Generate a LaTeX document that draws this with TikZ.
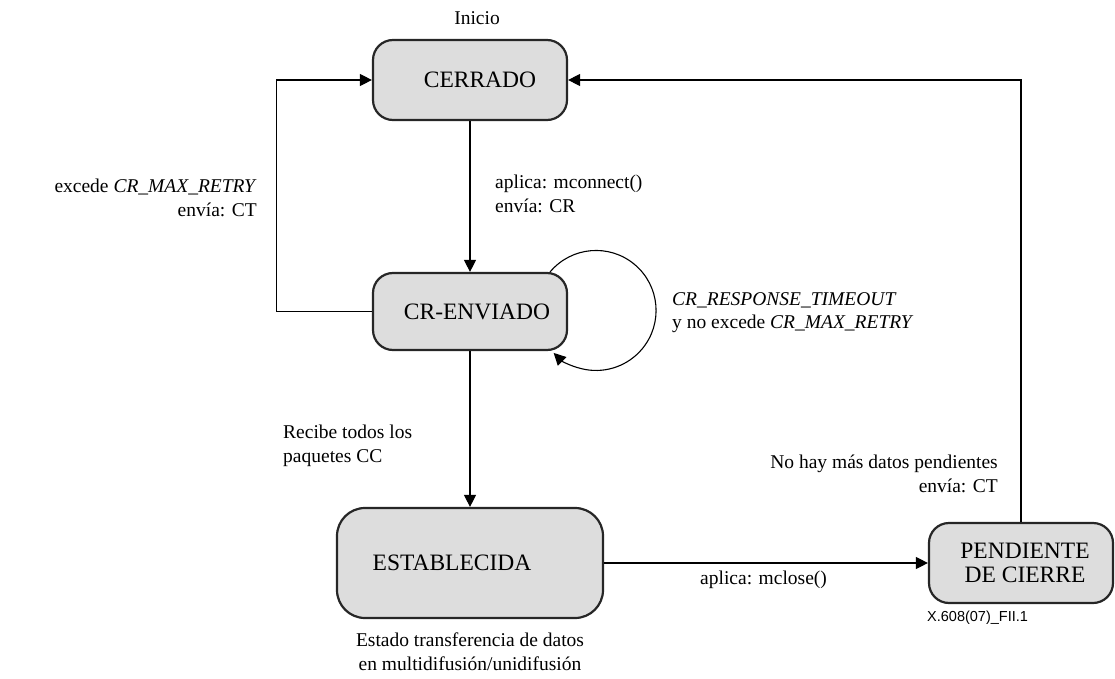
\documentclass[tikz,border=0pt]{standalone}
\usepackage{fontspec}
\setmainfont{Liberation Serif}
\newfontfamily\tagfont{Liberation Sans}
\usetikzlibrary{arrows.meta}
\definecolor{statefill}{RGB}{221,221,221}
\begin{document}
\begin{tikzpicture}[x=1pt,y=-1pt,
  state/.style={draw=black!85, line width=2.2pt, fill=statefill, rounded corners=20pt,
    inner sep=0pt, align=center, font=\fontsize{23.5}{24}\selectfont},
  lbl/.style={inner sep=0pt, font=\fontsize{19.5}{23.5}\selectfont},
  link/.style={line width=1.1pt, -{Triangle[length=12pt,width=12pt]}}
]
\useasboundingbox (0,0) rectangle (1115,679);

% states
\node[state, minimum width=194pt, minimum height=80pt] (cerr) at (470,80) {\hspace*{20pt}CERRADO};
\node[state, minimum width=194pt, minimum height=77pt] (crenv) at (470,311.5) {\hspace*{14pt}CR-ENVIADO};
\node[state, minimum width=266pt, minimum height=110pt, rounded corners=28pt] (estab) at (470,563) {ESTABLECIDA\hspace*{36pt}};
\node[state, minimum width=184pt, minimum height=80pt] (pend) at (1021,563) {\hspace*{8pt}PENDIENTE\\\hspace*{8pt}DE CIERRE};

% transitions
\draw[link] (cerr) -- (crenv);
\draw[link] (crenv) -- (estab);
\draw[link] (estab) -- (pend);
\draw[link] (crenv.west) -- ++(-95,0) |- (cerr.west);
\draw[link] (pend.north) |- (cerr.east);
\draw[link] ([xshift=-18pt]crenv.north east) arc[start angle=-140, end angle=135, radius=60];

% labels
\node[lbl, anchor=base] (inicio) at (477,25) {Inicio};

\node[lbl, anchor=base east] (exc1) at (257,192) {excede \textit{CR\_MAX\_RETRY}};
\node[lbl, anchor=base east] (exc2) at (257,216) {envía: CT};

\node[lbl, anchor=base west] (apl1) at (495,188) {aplica: mconnect()};
\node[lbl, anchor=base west] (apl2) at (495,212) {envía: CR};

\node[lbl, anchor=base west] (tmo1) at (672,305) {\textit{CR\_RESPONSE\_TIMEOUT}};
\node[lbl, anchor=base west] (tmo2) at (672,328) {y no excede \textit{CR\_MAX\_RETRY}};

\node[lbl, anchor=base west] (rec1) at (283,438) {Recibe todos los};
\node[lbl, anchor=base west] (rec2) at (283,462) {paquetes CC};

\node[lbl, anchor=base east] (nhm1) at (998,468) {No hay más datos pendientes};
\node[lbl, anchor=base east] (nhm2) at (998,492) {envía: CT};

\node[lbl, anchor=base west] (mcl) at (700,584) {aplica: mclose()};

\node[lbl, anchor=base] (est1) at (470,646) {Estado transferencia de datos};
\node[lbl, anchor=base] (est2) at (470,670) {en multidifusión/unidifusión};

\node[inner sep=0pt, anchor=base west, font=\tagfont\fontsize{14.5}{16}\selectfont] (tag) at (927,621) {X.608(07)\_FII.1};
\end{tikzpicture}
\end{document}
